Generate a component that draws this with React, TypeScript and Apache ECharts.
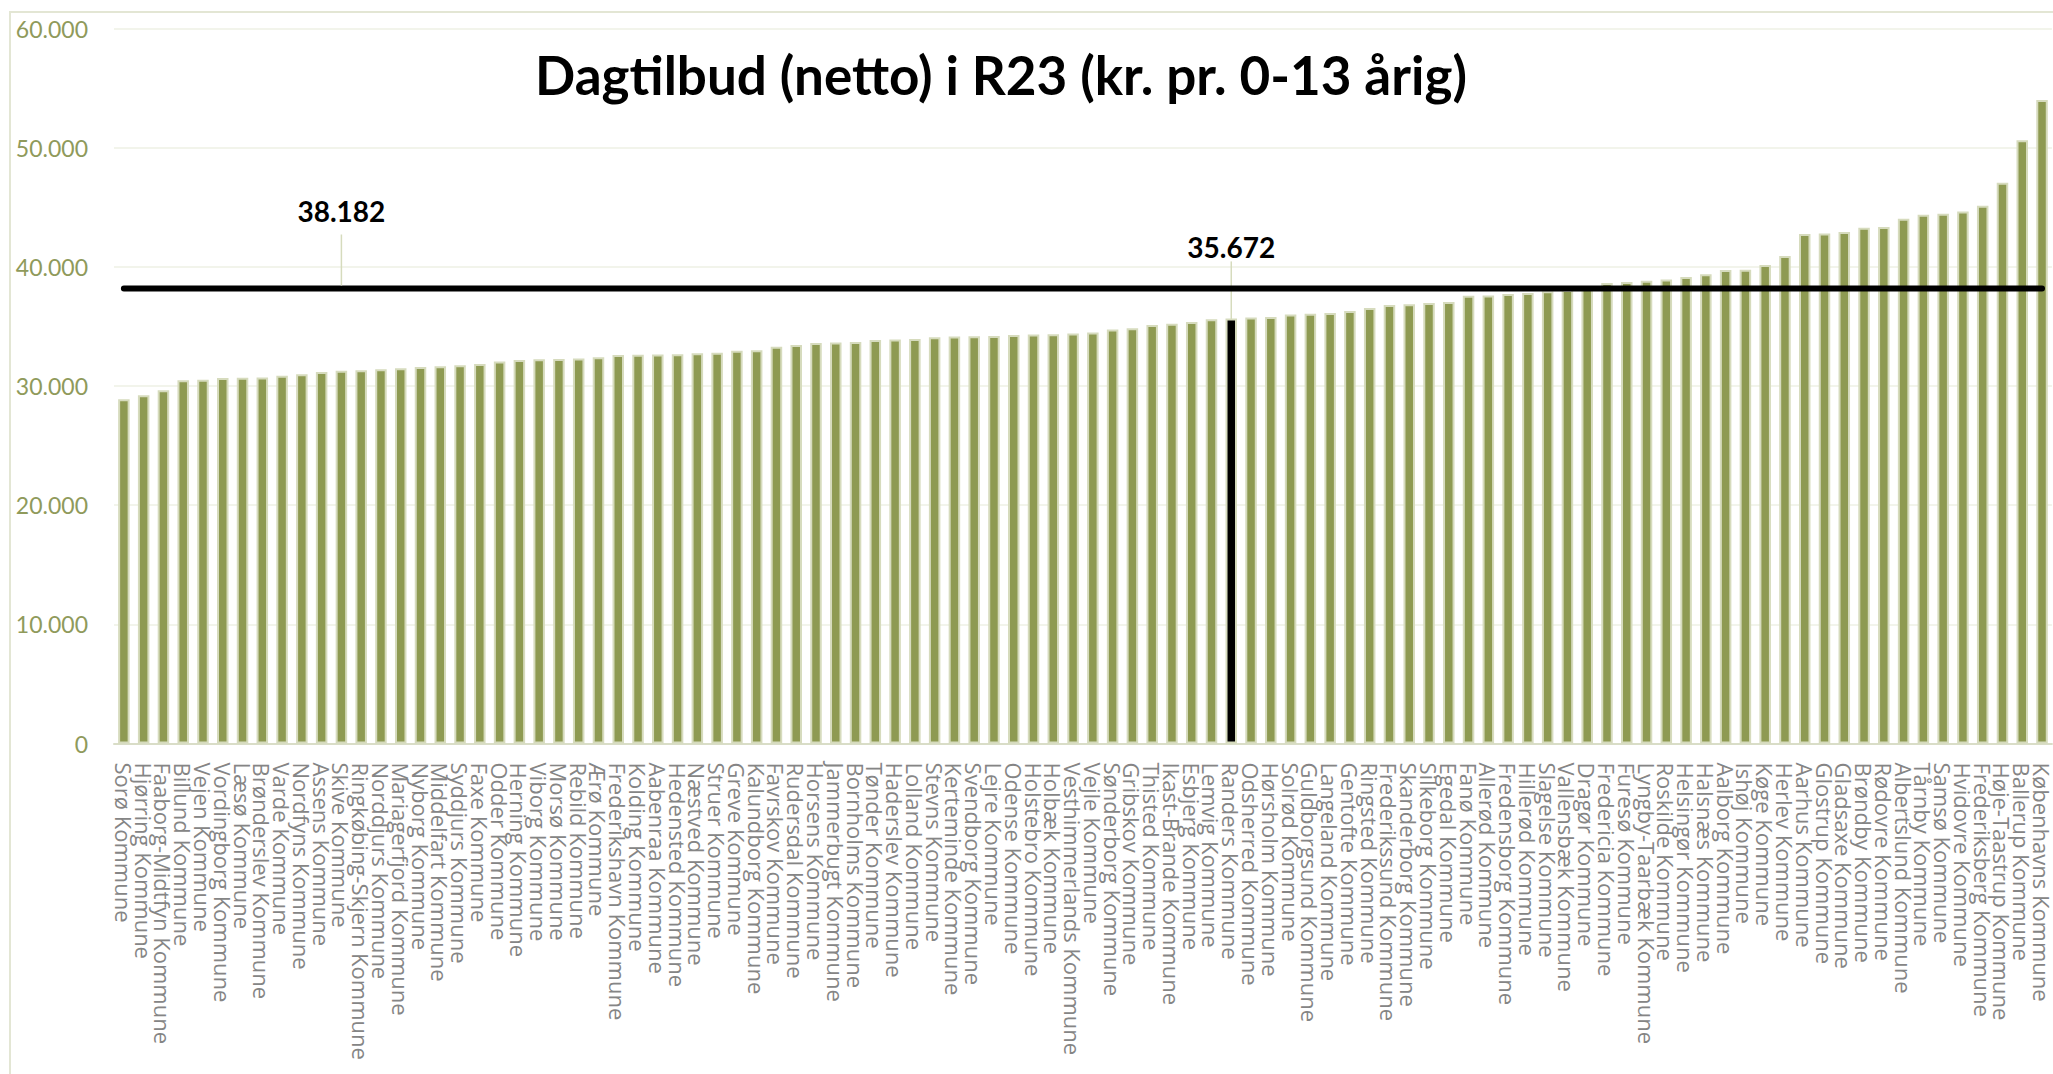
import React, { useEffect, useRef } from "react";
import * as echarts from "echarts";

const TITLE = "Dagtilbud (netto) i R23 (kr. pr. 0-13 årig)";

const CATEGORIES = [
  "Sorø Kommune", "Hjørring Kommune", "Faaborg-Midtfyn Kommune", "Billund Kommune", "Vejen Kommune",
  "Vordingborg Kommune", "Læsø Kommune", "Brønderslev Kommune", "Varde Kommune", "Nordfyns Kommune",
  "Assens Kommune", "Skive Kommune", "Ringkøbing-Skjern Kommune", "Norddjurs Kommune", "Mariagerfjord Kommune",
  "Nyborg Kommune", "Middelfart Kommune", "Syddjurs Kommune", "Faxe Kommune", "Odder Kommune",
  "Herning Kommune", "Viborg Kommune", "Morsø Kommune", "Rebild Kommune", "Ærø Kommune",
  "Frederikshavn Kommune", "Kolding Kommune", "Aabenraa Kommune", "Hedensted Kommune", "Næstved Kommune",
  "Struer Kommune", "Greve Kommune", "Kalundborg Kommune", "Favrskov Kommune", "Rudersdal Kommune",
  "Horsens Kommune", "Jammerbugt Kommune", "Bornholms Kommune", "Tønder Kommune", "Haderslev Kommune",
  "Lolland Kommune", "Stevns Kommune", "Kerteminde Kommune", "Svendborg Kommune", "Lejre Kommune",
  "Odense Kommune", "Holstebro Kommune", "Holbæk Kommune", "Vesthimmerlands Kommune", "Vejle Kommune",
  "Sønderborg Kommune", "Gribskov Kommune", "Thisted Kommune", "Ikast-Brande Kommune", "Esbjerg Kommune",
  "Lemvig Kommune", "Randers Kommune", "Odsherred Kommune", "Hørsholm Kommune", "Solrød Kommune",
  "Guldborgsund Kommune", "Langeland Kommune", "Gentofte Kommune", "Ringsted Kommune", "Frederikssund Kommune",
  "Skanderborg Kommune", "Silkeborg Kommune", "Egedal Kommune", "Fanø Kommune", "Allerød Kommune",
  "Fredensborg Kommune", "Hillerød Kommune", "Slagelse Kommune", "Vallensbæk Kommune", "Dragør Kommune",
  "Fredericia Kommune", "Furesø Kommune", "Lyngby-Taarbæk Kommune", "Roskilde Kommune", "Helsingør Kommune",
  "Halsnæs Kommune", "Aalborg Kommune", "Ishøj Kommune", "Køge Kommune", "Herlev Kommune",
  "Aarhus Kommune", "Glostrup Kommune", "Gladsaxe Kommune", "Brøndby Kommune", "Rødovre Kommune",
  "Albertslund Kommune", "Tårnby Kommune", "Samsø Kommune", "Hvidovre Kommune", "Frederiksberg Kommune",
  "Høje-Taastrup Kommune", "Ballerup Kommune", "Københavns Kommune",
];

const VALUES = [
  28890, 29230, 29650, 30490, 30520,
  30680, 30700, 30720, 30870, 30990,
  31180, 31290, 31320, 31410, 31490,
  31600, 31650, 31740, 31850, 32050,
  32190, 32250, 32270, 32300, 32420,
  32610, 32630, 32650, 32670, 32750,
  32780, 32950, 33000, 33300, 33450,
  33600, 33650, 33700, 33850, 33900,
  33950, 34100, 34150, 34180, 34200,
  34280, 34320, 34350, 34400, 34500,
  34750, 34850, 35120, 35230, 35370,
  35600, 35672, 35740, 35790, 35990,
  36070, 36120, 36300, 36550, 36800,
  36850, 36960, 37050, 37580, 37600,
  37720, 37800, 37950, 38050, 38150,
  38640, 38720, 38840, 38930, 39150,
  39370, 39740, 39760, 40150, 40900,
  42750, 42800, 42920, 43290, 43340,
  44040, 44380, 44460, 44650, 45130,
  47060, 50630, 54000,
];

const AVERAGE = 38182;
const HIGHLIGHT = "Randers Kommune";
const AVERAGE_LABEL_AT = "Skive Kommune";
const Y_MIN = 0;
const Y_MAX = 60000;
const Y_STEP = 10000;

const fmt = (v: number) =>
  String(Math.round(v)).replace(/\B(?=(\d{3})+(?!\d))/g, ".");

export default function App() {
  const ref = useRef<HTMLDivElement>(null);

  useEffect(() => {
    document.body.style.margin = "0";
    const chart = echarts.init(ref.current as HTMLDivElement, null, { renderer: "svg" });

    const olive = "#8e9a52";
    const outline = "#d6dbbd";

    const barData = VALUES.map((v, i) =>
      CATEGORIES[i] === HIGHLIGHT
        ? { value: v, itemStyle: { color: "#000000" }, label: { show: true } }
        : v
    );
    const lineData = CATEGORIES.map(() => AVERAGE);
    const avgLabelData = [[CATEGORIES.indexOf(AVERAGE_LABEL_AT), AVERAGE]];

    chart.setOption({
      animation: false,
      backgroundColor: "#ffffff",
      grid: { left: 114, top: 28.5, width: 1943, bottom: 330.5, containLabel: false },
      graphic: [
        {
          type: "rect",
          shape: { x: 10, y: 12, width: 2200, height: 1200 },
          style: { fill: "none", stroke: "#e3e6d4", lineWidth: 2 },
          silent: true,
          z: -10,
        },
        {
          type: "text",
          x: 1001,
          y: 74,
          style: {
            text: TITLE,
            font: "bold 53px Lato",
            fill: "#000000",
            textAlign: "center",
            textVerticalAlign: "middle",
            align: "center",
            verticalAlign: "middle",
          },
          z: 10,
        },
      ],
      xAxis: {
        type: "category",
        data: CATEGORIES,
        boundaryGap: true,
        axisLine: { show: true, lineStyle: { color: "#d9ddc7", width: 2 } },
        axisTick: { show: false },
        axisLabel: {
          interval: 0,
          rotate: -90,
          margin: 19,
          fontFamily: "Open Sans",
          fontSize: 22,
          color: "#858585",
        },
        splitLine: { show: false },
      },
      yAxis: {
        type: "value",
        min: Y_MIN,
        max: Y_MAX,
        interval: Y_STEP,
        axisLine: { show: false },
        axisTick: { show: false },
        axisLabel: {
          margin: 26,
          fontFamily: "Lato",
          fontSize: 23,
          color: "#8f9a5b",
          formatter: (v: number) => fmt(v),
        },
        splitLine: { show: true, lineStyle: { color: "#eef0e4", width: 1.5 } },
      },
      series: [
        {
          type: "bar",
          data: barData,
          barWidth: 11.5,
          itemStyle: { color: olive, borderColor: outline, borderWidth: 2 },
          label: {
            show: false,
            position: "top",
            distance: 5,
            formatter: (p: any) => fmt(p.value),
            fontFamily: "Lato",
            fontWeight: "bold",
            fontSize: 28,
            color: "#000000",
          },
          labelLayout: { dy: -52 },
          labelLine: { show: true, lineStyle: { color: outline, width: 1.5 } },
          z: 2,
        },
        {
          type: "line",
          data: lineData,
          showSymbol: false,
          symbol: "none",
          lineStyle: { color: "#000000", width: 6, cap: "round" },
          itemStyle: { color: "#000000" },
          z: 3,
        },
        {
          type: "custom",
          data: avgLabelData,
          encode: { x: 0, y: 1 },
          clip: false,
          silent: true,
          z: 4,
          renderItem: (_params: any, api: any) => {
            const pt = api.coord([api.value(0), api.value(1)]);
            return {
              type: "group",
              children: [
                {
                  type: "line",
                  shape: { x1: pt[0], y1: pt[1] - 3, x2: pt[0], y2: pt[1] - 54 },
                  style: { stroke: outline, lineWidth: 1.5 },
                },
                {
                  type: "text",
                  x: pt[0],
                  y: pt[1] - 77,
                  style: {
                    text: fmt(api.value(1)),
                    font: "bold 28px Lato",
                    fill: "#000000",
                    align: "center",
                    verticalAlign: "middle",
                  },
                },
              ],
            };
          },
        },
      ],
    });

    return () => chart.dispose();
  }, []);

  return (
    <div
      ref={ref}
      style={{ position: "absolute", left: 0, top: 0, width: 2053, height: 1074 }}
    />
  );
}
